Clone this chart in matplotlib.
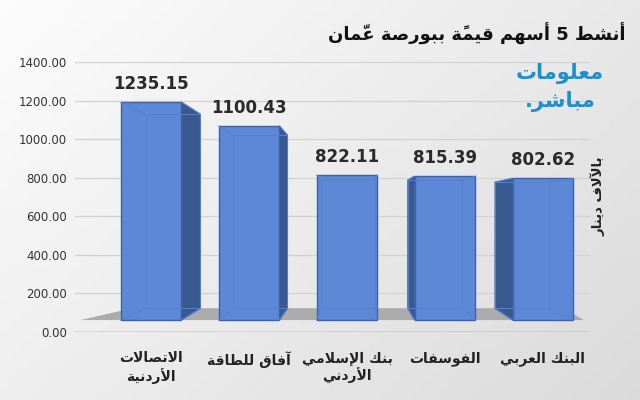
import matplotlib
matplotlib.use("Agg")
import matplotlib.pyplot as plt
import numpy as np
from matplotlib.patches import Polygon

categories = ["الاتصالات\nالأردنية", "آفاق للطاقة", "بنك الإسلامي\nالأردني", "الفوسفات", "البنك العربي"]
values = [1235.15, 1100.43, 822.11, 815.39, 802.62]
yticks = [0, 200, 400, 600, 800, 1000, 1200, 1400]

# --- minimal Arabic shaping (presentation forms) ---
F = {
 'ا':('\uFE8D','\uFE8E',None,None),'أ':('\uFE83','\uFE84',None,None),'إ':('\uFE87','\uFE88',None,None),
 'آ':('\uFE81','\uFE82',None,None),'ب':('\uFE8F','\uFE90','\uFE91','\uFE92'),'ة':('\uFE93','\uFE94',None,None),
 'ت':('\uFE95','\uFE96','\uFE97','\uFE98'),'د':('\uFEA9','\uFEAA',None,None),'ر':('\uFEAD','\uFEAE',None,None),
 'س':('\uFEB1','\uFEB2','\uFEB3','\uFEB4'),'ش':('\uFEB5','\uFEB6','\uFEB7','\uFEB8'),'ص':('\uFEB9','\uFEBA','\uFEBB','\uFEBC'),
 'ط':('\uFEC1','\uFEC2','\uFEC3','\uFEC4'),'ع':('\uFEC9','\uFECA','\uFECB','\uFECC'),'ف':('\uFED1','\uFED2','\uFED3','\uFED4'),
 'ق':('\uFED5','\uFED6','\uFED7','\uFED8'),'ك':('\uFED9','\uFEDA','\uFEDB','\uFEDC'),'ل':('\uFEDD','\uFEDE','\uFEDF','\uFEE0'),
 'م':('\uFEE1','\uFEE2','\uFEE3','\uFEE4'),'ن':('\uFEE5','\uFEE6','\uFEE7','\uFEE8'),'ه':('\uFEE9','\uFEEA','\uFEEB','\uFEEC'),
 'و':('\uFEED','\uFEEE',None,None),'ي':('\uFEF1','\uFEF2','\uFEF3','\uFEF4'),
}
LA = {'ا':('\uFEFB','\uFEFC'),'أ':('\uFEF7','\uFEF8'),'إ':('\uFEF9','\uFEFA'),'آ':('\uFEF5','\uFEF6')}
MARKS = set(chr(c) for c in range(0x064B, 0x0653))

def shape_word(w):
    cl = []
    for ch in w:
        if ch in MARKS and cl:
            cl[-1][1] += ch
        else:
            cl.append([ch, ''])
    merged = []
    i = 0
    while i < len(cl):
        if cl[i][0] == 'ل' and i + 1 < len(cl) and cl[i+1][0] in LA:
            merged.append(['LA' + cl[i+1][0], cl[i][1] + cl[i+1][1]]); i += 2
        else:
            merged.append(cl[i]); i += 1
    def joins_next(b):
        if b.startswith('LA'): return False
        return b in F and F[b][2] is not None
    def joins_prev(b):
        return b.startswith('LA') or b in F
    out = []
    for i, (b, m) in enumerate(merged):
        prev = i > 0 and joins_next(merged[i-1][0]) and joins_prev(b)
        nxt = i + 1 < len(merged) and joins_next(b) and joins_prev(merged[i+1][0])
        if b.startswith('LA'):
            g = LA[b[2]][1 if prev else 0]
        elif b in F:
            iso, fin, ini, med = F[b]
            g = med if (prev and nxt) else fin if prev else ini if nxt else iso
        else:
            g = b
        out.append(g + m)
    return ''.join(reversed(out))

def ar(s):
    return '\n'.join(' '.join(reversed([shape_word(w) for w in line.split(' ')])) for line in s.split('\n'))

plt.rcParams['font.family'] = ['DejaVu Sans']
fig = plt.figure(figsize=(6.4, 4.0), dpi=100)

# background gradient
bg = fig.add_axes([0, 0, 1, 1], zorder=-10)
gx, gy = np.meshgrid(np.linspace(0, 1, 64), np.linspace(0, 1, 40))
grad = 0.985 - 0.13 * (0.6 * gx + 0.4 * gy)
bg.imshow(grad, cmap='gray', vmin=0, vmax=1, aspect='auto', extent=[0, 1, 0, 1])
bg.axis('off')

ax = fig.add_axes([75/640, 68/400, 515/640, 270/400])
ax.patch.set_alpha(0)
n = len(values)
ax.set_xlim(-0.776, 4.48)
ax.set_ylim(0, 1400)
ax.set_yticks(yticks)
ax.set_yticklabels([f"{v:.2f}" for v in yticks], fontsize=8.5, color='#333333')
ax.set_xticks(range(n))
ax.set_xticklabels([ar(c) for c in categories], fontsize=10, fontweight='bold', color='#222222')
ax.tick_params(length=0, pad=6)
ax.tick_params(axis='x', pad=14)
for s in ax.spines.values():
    s.set_visible(False)
ax.grid(axis='y', color='#d2d2d2', lw=0.9)
ax.set_axisbelow(True)
ax.axhline(0, color='#888888', lw=1, xmin=0, xmax=1, zorder=1)

# simple perspective projection
VPX, VPY, S = 2.06, 620.0, 0.89
Y0, K = 62.0, 0.915
def front(x, v):
    return (x, Y0 + K * v)
def back(x, v):
    fx, fy = front(x, v)
    return (VPX + S * (fx - VPX), VPY + S * (fy - VPY))

# floor
xl, xr = -0.72, 4.42
ax.add_patch(Polygon([front(xl, 0), front(xr, 0), back(xr + 0.05, 0), back(xl + 0.25, 0)],
                     closed=True, fc='#ababab', ec='none', zorder=1))

w = 0.31
edge = '#3b62a8'
for i, v in enumerate(values):
    x0, x1 = i - w, i + w
    fb0, fb1, ft1, ft0 = front(x0, 0), front(x1, 0), front(x1, v), front(x0, v)
    bb0, bb1, bt1, bt0 = back(x0, 0), back(x1, 0), back(x1, v), back(x0, v)
    if x1 < VPX:
        ax.add_patch(Polygon([fb1, bb1, bt1, ft1], fc='#3a5990', ec=edge, lw=0.8, zorder=2))
    elif x0 > VPX:
        ax.add_patch(Polygon([fb0, bb0, bt0, ft0], fc='#3a5990', ec=edge, lw=0.8, zorder=2))
    ax.add_patch(Polygon([fb0, fb1, ft1, ft0], fc='#5d88d8', ec=edge, lw=1.0, zorder=3))
    ax.add_patch(Polygon([bb0, bb1, bt1, bt0], fc='none', ec='#5480cc', lw=0.7, zorder=4))
    for a, b in [(fb0, bb0), (fb1, bb1), (ft0, bt0), (ft1, bt1)]:
        ax.plot([a[0], b[0]], [a[1], b[1]], color='#5480cc', lw=0.7, zorder=4)
    ax.text(i, ft0[1] + 95, f"{v:.2f}", ha='center', va='center', fontsize=12, fontweight='bold', color='#2a2a2a', zorder=5)

fig.text(0.745, 0.915, ar("أنشط 5 أسهم قيمةً ببورصة عمّان"), ha='center', va='center', fontsize=13, fontweight='bold', color='#111111')
fig.text(0.935, 0.51, ar("بالآلاف دينار"), rotation=90, ha='center', va='center', fontsize=9.5, fontweight='bold', color='#222222')
fig.text(0.875, 0.815, ar("معلومات"), ha='center', va='center', fontsize=15, fontweight='bold', color='#1d8fd0')
fig.text(0.875, 0.745, "." + ar("مباشر"), ha='center', va='center', fontsize=15, fontweight='bold', color='#1d8fd0')
fig.savefig("out.png", dpi=100)
